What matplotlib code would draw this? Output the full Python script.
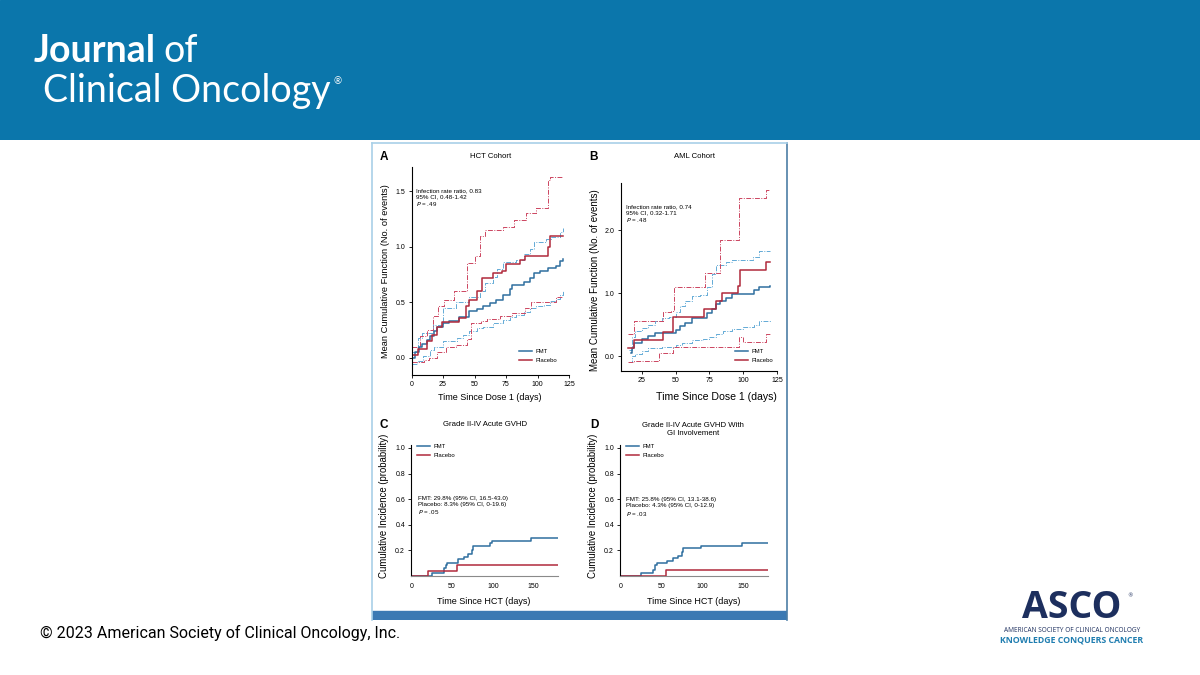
import matplotlib
matplotlib.use('Agg')
import matplotlib.pyplot as plt
from matplotlib.patches import Rectangle

W, H = 1200, 675

# ---- data ----
# A: HCT cohort, mean cumulative function
a_fmt_t = [0, 3, 6, 8, 12, 15, 18, 20, 25, 30, 38, 46, 52, 57, 62, 67, 73, 78, 80, 89, 94, 97, 102, 108, 115, 118, 120]
a_fmt_y = [0.0, 0.05, 0.1, 0.13, 0.16, 0.2, 0.24, 0.28, 0.31, 0.33, 0.37, 0.42, 0.44, 0.47, 0.49, 0.52, 0.57, 0.62, 0.66, 0.68, 0.72, 0.76, 0.78, 0.81, 0.83, 0.87, 0.89]
a_fmt_hi_t = [0, 5, 8, 17, 25, 35, 46, 54, 58, 65, 68, 73, 83, 89, 94, 97, 107, 111, 118, 120]
a_fmt_hi_y = [0.05, 0.18, 0.22, 0.3, 0.45, 0.5, 0.55, 0.6, 0.67, 0.73, 0.8, 0.86, 0.88, 0.93, 0.98, 1.04, 1.07, 1.09, 1.13, 1.17]
a_fmt_lo_t = [0, 4, 9, 15, 18, 25, 36, 41, 46, 52, 57, 65, 73, 78, 83, 89, 94, 99, 105, 110, 115, 118, 120]
a_fmt_lo_y = [-0.05, -0.03, 0.015, 0.07, 0.1, 0.15, 0.18, 0.21, 0.24, 0.27, 0.28, 0.31, 0.34, 0.37, 0.39, 0.41, 0.45, 0.47, 0.48, 0.51, 0.53, 0.57, 0.6]
a_pla_t = [0, 5, 12, 16, 20, 24, 38, 43, 46, 52, 56, 65, 72, 75, 86, 90, 108, 110, 120]
a_pla_y = [0.03, 0.08, 0.15, 0.21, 0.28, 0.32, 0.36, 0.47, 0.52, 0.6, 0.72, 0.76, 0.78, 0.84, 0.88, 0.92, 1.0, 1.1, 1.1]
a_pla_hi_t = [0, 7, 12, 17, 21, 26, 34, 44, 50, 54, 58, 73, 81, 91, 99, 108, 110, 120]
a_pla_hi_y = [0.1, 0.2, 0.25, 0.38, 0.47, 0.52, 0.6, 0.85, 0.92, 1.1, 1.15, 1.18, 1.24, 1.3, 1.35, 1.6, 1.63, 1.63]
a_pla_lo_t = [0, 10, 14, 20, 27, 35, 44, 47, 55, 60, 70, 80, 90, 95, 110, 115, 120]
a_pla_lo_y = [-0.04, -0.02, 0.0, 0.05, 0.1, 0.12, 0.17, 0.31, 0.33, 0.35, 0.38, 0.4, 0.45, 0.5, 0.5, 0.55, 0.55]

# B: AML cohort
b_fmt_t = [17, 18, 19, 25, 30, 35, 50, 53, 57, 62, 73, 77, 80, 83, 87, 92, 108, 112, 120]
b_fmt_y = [0.05, 0.13, 0.2, 0.27, 0.32, 0.37, 0.42, 0.47, 0.53, 0.6, 0.68, 0.75, 0.83, 0.88, 0.93, 0.98, 1.05, 1.1, 1.12]
b_fmt_hi_t = [16, 18, 20, 25, 30, 35, 40, 45, 50, 53, 57, 62, 68, 73, 77, 80, 87, 92, 107, 112, 120]
b_fmt_hi_y = [0.1, 0.3, 0.4, 0.45, 0.5, 0.55, 0.6, 0.62, 0.7, 0.8, 0.88, 0.95, 0.97, 1.1, 1.3, 1.45, 1.5, 1.53, 1.58, 1.67, 1.67]
b_fmt_lo_t = [16, 18, 20, 25, 30, 40, 50, 55, 62, 70, 75, 80, 85, 92, 100, 108, 112, 120]
b_fmt_lo_y = [-0.1, 0.0, 0.03, 0.08, 0.12, 0.15, 0.18, 0.2, 0.25, 0.27, 0.3, 0.35, 0.4, 0.43, 0.46, 0.5, 0.55, 0.57]
b_pla_t = [15, 19, 41, 48, 71, 80, 84, 96, 98, 117, 120]
b_pla_y = [0.12, 0.25, 0.38, 0.62, 0.75, 0.87, 1.0, 1.12, 1.37, 1.5, 1.5]
b_pla_hi_t = [15, 19, 41, 47, 49, 72, 83, 97, 117, 120]
b_pla_hi_y = [0.35, 0.55, 0.7, 0.72, 1.1, 1.32, 1.85, 2.52, 2.65, 2.65]
b_pla_lo_t = [15, 19, 38, 48, 97, 100, 117, 120]
b_pla_lo_y = [-0.1, -0.08, 0.04, 0.14, 0.3, 0.22, 0.35, 0.35]

# C: grade II-IV acute GVHD, cumulative incidence
c_fmt_t = [0, 25, 40, 42, 44, 57, 65, 70, 74, 76, 97, 99, 147, 180]
c_fmt_y = [0.0, 0.02, 0.06, 0.085, 0.105, 0.13, 0.15, 0.17, 0.2, 0.235, 0.255, 0.275, 0.298, 0.298]
c_pla_t = [0, 20, 56, 180]
c_pla_y = [0.0, 0.042, 0.083, 0.083]

# D: grade II-IV acute GVHD with GI involvement
d_fmt_t = [0, 25, 40, 42, 45, 57, 64, 70, 75, 77, 98, 148, 180]
d_fmt_y = [0.0, 0.02, 0.05, 0.085, 0.105, 0.12, 0.14, 0.16, 0.19, 0.215, 0.235, 0.258, 0.258]
d_pla_t = [0, 56, 180]
d_pla_y = [0.0, 0.043, 0.043]

blue = '#2f6f9f'
red = '#b02a3c'
blue_ci = '#62aad6'
red_ci = '#cc4560'
dashdot = (0, (5, 1.5, 1, 1.5))
sans = ['Liberation Sans', 'DejaVu Sans']


def rect(x0, y0, x1, y1):
    # pixel box -> figure fraction
    return [x0 / W, 1 - y1 / H, (x1 - x0) / W, (y1 - y0) / H]


def fx(x):
    return x / W


def fy(y):
    return 1 - y / H


def style(ax):
    for s in ['top', 'right']:
        ax.spines[s].set_visible(False)
    for s in ['left', 'bottom']:
        ax.spines[s].set_linewidth(0.8)
    ax.tick_params(labelsize=5.0, length=2.5, width=0.6, pad=2)
    for lab in ax.get_xticklabels() + ax.get_yticklabels():
        lab.set_family(sans)


def legend(ax, x, y):
    ax.legend(loc='upper left', bbox_to_anchor=(fx(x), fy(y)), bbox_transform=fig.transFigure,
              frameon=False, handlelength=2.2, handletextpad=0.5, labelspacing=0.55,
              borderpad=0, borderaxespad=0, prop={'family': sans, 'size': 4.3})


fig = plt.figure(figsize=(12, 6.75), dpi=100)
fig.patch.set_facecolor('white')

# header band
hdr = fig.add_axes(rect(0, 0, 1200, 140))
hdr.set_axis_off()
hdr.add_patch(Rectangle((0, 0), 1, 1, color='#0b76ab', transform=hdr.transAxes))
fig.text(fx(34), fy(62), 'Journal', color='white', fontsize=27, fontweight='bold', family='Lato', va='baseline')
fig.text(fx(163), fy(62), 'of', color='white', fontsize=27, family='Lato', va='baseline')
fig.text(fx(43), fy(102), 'Clinical Oncology', color='white', fontsize=27, family='Lato', va='baseline')
fig.text(fx(333), fy(84), '®', color='white', fontsize=7, family='Lato', va='baseline')

# footer
fig.text(fx(40), fy(633), '© 2023 American Society of Clinical Oncology, Inc.', fontsize=11.5, family='Roboto', va='center')
fig.text(fx(1072), fy(618.5), 'ASCO', color='#1d2f5e', fontsize=27, fontweight='bold', family='Open Sans', ha='center', va='baseline')
fig.text(fx(1127), fy(597), '®', color='#1d2f5e', fontsize=4, va='baseline')
fig.text(fx(1072), fy(630), 'AMERICAN SOCIETY OF CLINICAL ONCOLOGY', color='#1d2f5e', fontsize=4.7, family='Open Sans', ha='center', va='center')
fig.text(fx(1072), fy(640.5), 'KNOWLEDGE CONQUERS CANCER', color='#1f7db0', fontsize=6.3, fontweight='bold', family='Open Sans', ha='center', va='center')

# figure frame
frame = fig.add_axes(rect(372, 143, 787, 620))
frame.set_xticks([])
frame.set_yticks([])
frame.set_xlim(0, 1)
frame.set_ylim(0, 1)
frame.spines['left'].set_color('#a9d0e8')
frame.spines['top'].set_color('#a9d0e8')
frame.spines['right'].set_color('#4d7ea6')
frame.spines['bottom'].set_visible(False)
for s in ['left', 'top', 'right']:
    frame.spines[s].set_linewidth(1.2)
frame.add_patch(Rectangle((0, 0), 1, 9 / 477, color='#3b79b3', transform=frame.transAxes))

# ---- panel A ----
axA = fig.add_axes(rect(411.5, 167, 569, 375))
axA.step(a_fmt_hi_t, a_fmt_hi_y, where='post', color=blue_ci, lw=0.7, ls=dashdot)
axA.step(a_fmt_lo_t, a_fmt_lo_y, where='post', color=blue_ci, lw=0.7, ls=dashdot)
axA.step(a_pla_hi_t, a_pla_hi_y, where='post', color=red_ci, lw=0.7, ls=dashdot)
axA.step(a_pla_lo_t, a_pla_lo_y, where='post', color=red_ci, lw=0.7, ls=dashdot)
axA.step(a_fmt_t, a_fmt_y, where='post', color=blue, lw=1.1, label='FMT')
axA.step(a_pla_t, a_pla_y, where='post', color=red, lw=1.1, label='Placebo')
axA.set_xlim(0, 125)
axA.set_ylim(-0.153, 1.716)
axA.set_xticks([0, 25, 50, 75, 100, 125])
axA.set_yticks([0.0, 0.5, 1.0, 1.5])
axA.set_yticklabels(['0.0', '0.5', '1.0', '1.5'])
style(axA)
legend(axA, 519, 349)

# ---- panel B ----
axB = fig.add_axes(rect(620.7, 182.7, 777, 370.7))
axB.step(b_fmt_hi_t, b_fmt_hi_y, where='post', color=blue_ci, lw=0.7, ls=dashdot)
axB.step(b_fmt_lo_t, b_fmt_lo_y, where='post', color=blue_ci, lw=0.7, ls=dashdot)
axB.step(b_pla_hi_t, b_pla_hi_y, where='post', color=red_ci, lw=0.7, ls=dashdot)
axB.step(b_pla_lo_t, b_pla_lo_y, where='post', color=red_ci, lw=0.7, ls=dashdot)
axB.step(b_fmt_t, b_fmt_y, where='post', color=blue, lw=1.1, label='FMT')
axB.step(b_pla_t, b_pla_y, where='post', color=red, lw=1.1, label='Placebo')
axB.set_xlim(9.5, 125)
axB.set_ylim(-0.234, 2.76)
axB.set_xticks([25, 50, 75, 100, 125])
axB.set_yticks([0.0, 1.0, 2.0])
axB.set_yticklabels(['0.0', '1.0', '2.0'])
style(axB)
legend(axB, 735, 349)

# ---- panel C ----
axC = fig.add_axes(rect(411.3, 445, 558, 576))
axC.step(c_fmt_t, c_fmt_y, where='post', color=blue, lw=1.1, label='FMT')
axC.step(c_pla_t, c_pla_y, where='post', color=red, lw=1.1, label='Placebo')
axC.set_xlim(0, 180)
axC.set_ylim(0, 1.023)
axC.set_xticks([0, 50, 100, 150])
axC.set_yticks([0.2, 0.4, 0.6, 0.8, 1.0])
style(axC)
axC.spines['bottom'].set_color('#8a8a8a')
axC.tick_params(axis='x', length=0, pad=5)
legend(axC, 417, 444)

# ---- panel D ----
axD = fig.add_axes(rect(620.3, 445, 768, 576))
axD.step(d_fmt_t, d_fmt_y, where='post', color=blue, lw=1.1, label='FMT')
axD.step(d_pla_t, d_pla_y, where='post', color=red, lw=1.1, label='Placebo')
axD.set_xlim(0, 180)
axD.set_ylim(0, 1.023)
axD.set_xticks([0, 50, 100, 150])
axD.set_yticks([0.2, 0.4, 0.6, 0.8, 1.0])
style(axD)
axD.spines['bottom'].set_color('#8a8a8a')
axD.tick_params(axis='x', length=0, pad=5)
legend(axD, 626, 444)

# ---- panel letters, titles, axis labels, annotations ----
for letter, x, y in [('A', 380, 157), ('B', 589, 157), ('C', 380, 425), ('D', 590, 425)]:
    fig.text(fx(x), fy(y), letter, fontsize=8.5, fontweight='bold', family='Liberation Sans', va='center')

tkw = dict(fontsize=5.6, family=sans, ha='center', va='center')
fig.text(fx(491), fy(157), 'HCT Cohort', **tkw)
fig.text(fx(694), fy(157), 'AML Cohort', **tkw)
fig.text(fx(485), fy(425), 'Grade II-IV Acute GVHD', **tkw)
fig.text(fx(693), fy(429.5), 'Grade II-IV Acute GVHD With\nGI Involvement', linespacing=1.1, **tkw)

lkw = dict(family=sans, ha='center', va='center')
fig.text(fx(490), fy(397), 'Time Since Dose 1 (days)', fontsize=6.5, **lkw)
fig.text(fx(716), fy(397), 'Time Since Dose 1 (days)', fontsize=7.6, **lkw)
fig.text(fx(484), fy(601), 'Time Since HCT (days)', fontsize=6.5, **lkw)
fig.text(fx(694), fy(601), 'Time Since HCT (days)', fontsize=6.5, **lkw)
fig.text(fx(385), fy(271), 'Mean Cumulative Function (No. of events)', fontsize=6.7, rotation=90, **lkw)
fig.text(fx(595), fy(280), 'Mean Cumulative Function (No. of events)', fontsize=7.0, rotation=90, **lkw)
fig.text(fx(384), fy(506), 'Cumulative Incidence (probability)', fontsize=6.9, rotation=90, **lkw)
fig.text(fx(593), fy(506), 'Cumulative Incidence (probability)', fontsize=6.9, rotation=90, **lkw)

akw = dict(fontsize=4.5, family=sans, ha='left', va='top', linespacing=1.25)
fig.text(fx(416.5), fy(188), 'Infection rate ratio, 0.83\n95% CI, 0.48-1.42\n$P$ = .49', **akw)
fig.text(fx(626), fy(204), 'Infection rate ratio, 0.74\n95% CI, 0.32-1.71\n$P$ = .48', **akw)
fig.text(fx(417.5), fy(496), 'FMT: 29.8% (95% CI, 16.5-43.0)\nPlacebo: 8.3% (95% CI, 0-19.6)\n$P$ = .05', **akw)
fig.text(fx(626.5), fy(497), 'FMT: 25.8% (95% CI, 13.1-38.6)\nPlacebo: 4.3% (95% CI, 0-12.9)\n$P$ = .03', **akw)

plt.savefig('out.png', dpi=100, facecolor='white')
